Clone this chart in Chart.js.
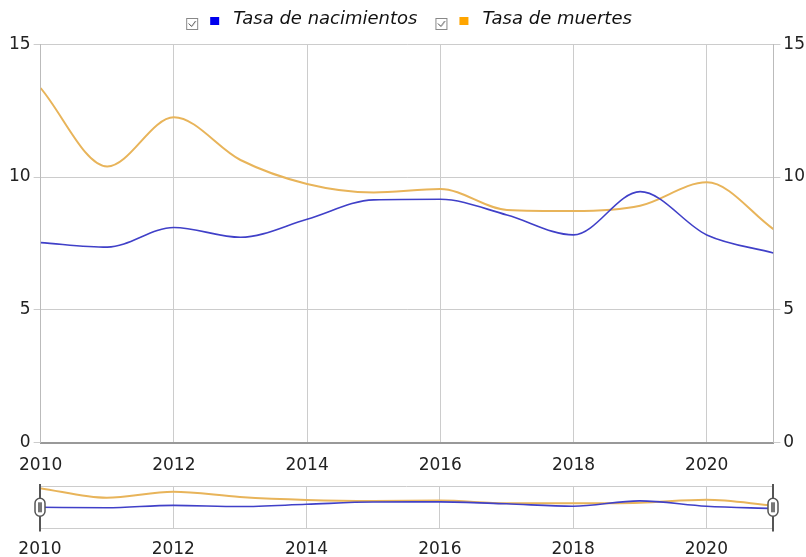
<!DOCTYPE html>
<html>
<head>
<meta charset="utf-8">
<script src="https://cdn.jsdelivr.net/npm/chart.js@4.4.0/dist/chart.umd.min.js"></script>
<style>
    html, body { margin: 0; padding: 0; background: #fff; overflow: hidden; }
    #main { position: absolute; left: 0; top: 0; }
    #nav { position: absolute; left: 0; top: 476px; }
</style>
</head>
<body>
<canvas id="main" width="806" height="489"></canvas>
<canvas id="nav" width="806" height="95"></canvas>
<script>
// years and rates
const years = [2010, 2011, 2012, 2013, 2014, 2015, 2016, 2017, 2018, 2019, 2020, 2021];
const nacimientos = [7.53, 7.36, 8.10, 7.73, 8.41, 9.14, 9.16, 8.57, 7.82, 9.45, 7.82, 7.14];
const muertes = [13.35, 10.40, 12.25, 10.64, 9.74, 9.42, 9.55, 8.76, 8.72, 8.92, 9.80, 8.04];
const xTicks = [2010, 2012, 2014, 2016, 2018, 2020];
const yTicks = [0, 5, 10, 15];

const labelNac = 'Tasa de nacimientos';
const labelMue = 'Tasa de muertes';
const colorNac = '#4040c8';
const colorMue = '#e8b45a';

const font = { family: 'DejaVu Sans', size: 17 };

function toPoints(values) {
    return years.map((y, i) => ({ x: y, y: values[i] }));
}

// legend marker: checkbox + small coloured square (a little empty room on the left as spacing)
function legendMark(color) {
    const c = document.createElement('canvas');
    c.width = 42;
    c.height = 28;
    const g = c.getContext('2d');
    g.strokeStyle = '#888';
    g.lineWidth = 1;
    g.strokeRect(4.5, 13.5, 11, 11);
    g.strokeStyle = '#444';
    g.beginPath();
    g.moveTo(6.5, 18.5);
    g.lineTo(9.5, 21.5);
    g.lineTo(13.5, 16);
    g.stroke();
    g.fillStyle = color;
    g.fillRect(28, 12, 9, 8);
    return c;
}

const marks = [legendMark('#0000ee'), legendMark('#ffa500')];

const ctx = document.getElementById('main');

new Chart(ctx, {
    type: 'line',
    data: {
        datasets: [{
            label: labelNac,
            data: toPoints(nacimientos),
            borderColor: colorNac,
            borderWidth: 1.6,
            pointRadius: 0,
            cubicInterpolationMode: 'monotone',
            yAxisID: 'y'
        }, {
            label: labelMue,
            data: toPoints(muertes),
            borderColor: colorMue,
            borderWidth: 2,
            pointRadius: 0,
            cubicInterpolationMode: 'monotone',
            yAxisID: 'y'
        }]
    },
    options: {
        responsive: false,
        animation: false,
        layout: { padding: { left: 6, right: -2, top: -4, bottom: 0 } },
        plugins: {
            tooltip: { enabled: false },
            legend: {
                position: 'top',
                labels: {
                    usePointStyle: true,
                    pointStyleWidth: 42,
                    padding: 14,
                    color: '#111',
                    font: { family: 'DejaVu Sans', size: 18, style: 'italic' },
                    generateLabels: chart => chart.data.datasets.map((ds, i) => ({
                        text: ds.label,
                        pointStyle: marks[i],
                        fillStyle: 'transparent',
                        strokeStyle: 'transparent',
                        lineWidth: 0,
                        datasetIndex: i,
                        fontColor: '#111'
                    }))
                }
            },
            // empty spacer below the legend
            subtitle: {
                display: true,
                text: '',
                weight: 500,
                font: { size: 1 },
                padding: { top: 0, bottom: 5 }
            }
        },
        scales: {
            x: {
                type: 'linear',
                min: 2010,
                max: 2021,
                afterBuildTicks: scale => { scale.ticks = xTicks.map(v => ({ value: v })); },
                ticks: { color: '#222', font: font, padding: 13, maxRotation: 0, callback: v => String(v) },
                grid: { color: '#cccccc', drawTicks: false },
                border: { color: '#999', width: 2 }
            },
            y: {
                position: 'left',
                min: 0,
                max: 15,
                afterBuildTicks: scale => { scale.ticks = yTicks.map(v => ({ value: v })); },
                ticks: { color: '#222', font: font, padding: 3 },
                grid: { color: '#cccccc', tickLength: 7 },
                border: { color: '#bbb' }
            },
            y2: {
                position: 'right',
                min: 0,
                max: 15,
                afterBuildTicks: scale => { scale.ticks = yTicks.map(v => ({ value: v })); },
                ticks: { color: '#222', font: font, padding: 3 },
                grid: { drawOnChartArea: false, color: '#cccccc', tickLength: 7 },
                border: { color: '#bbb' }
            }
        }
    }
});

// navigator strip with range handles
const handles = {
    id: 'handles',
    afterDraw(chart) {
        const g = chart.ctx;
        const a = chart.chartArea;
        const mid = (a.top + a.bottom) / 2;
        [a.left, a.right].forEach(px => {
            g.save();
            g.strokeStyle = '#555';
            g.lineWidth = 2;
            g.beginPath();
            g.moveTo(px, a.top - 2);
            g.lineTo(px, a.bottom + 3);
            g.stroke();
            g.fillStyle = '#fff';
            g.lineWidth = 1.5;
            g.beginPath();
            g.roundRect(px - 5, mid - 9, 10, 18, 5);
            g.fill();
            g.stroke();
            g.fillStyle = '#777';
            g.fillRect(px - 2, mid - 5, 4, 10);
            g.restore();
        });
    }
};

new Chart(document.getElementById('nav'), {
    type: 'line',
    data: {
        datasets: [{
            data: toPoints(nacimientos),
            borderColor: colorNac,
            borderWidth: 1.6,
            pointRadius: 0,
            cubicInterpolationMode: 'monotone'
        }, {
            data: toPoints(muertes),
            borderColor: colorMue,
            borderWidth: 2,
            pointRadius: 0,
            cubicInterpolationMode: 'monotone'
        }]
    },
    options: {
        responsive: false,
        animation: false,
        layout: { padding: { left: 40, right: 33, top: 10, bottom: 0 } },
        plugins: { legend: { display: false }, tooltip: { enabled: false } },
        scales: {
            x: {
                type: 'linear',
                min: 2010,
                max: 2021,
                afterBuildTicks: scale => { scale.ticks = xTicks.map(v => ({ value: v })); },
                ticks: { color: '#222', font: font, padding: 11, maxRotation: 0, callback: v => String(v) },
                grid: { color: '#cccccc', drawTicks: false },
                border: { color: '#ccc' }
            },
            y: {
                display: true,
                min: 1,
                max: 14,
                afterBuildTicks: scale => { scale.ticks = [{ value: 1 }, { value: 14 }]; },
                ticks: { display: false },
                grid: { color: '#cccccc', drawTicks: false },
                border: { display: false }
            }
        }
    },
    plugins: [handles]
});
</script>
</body>
</html>
